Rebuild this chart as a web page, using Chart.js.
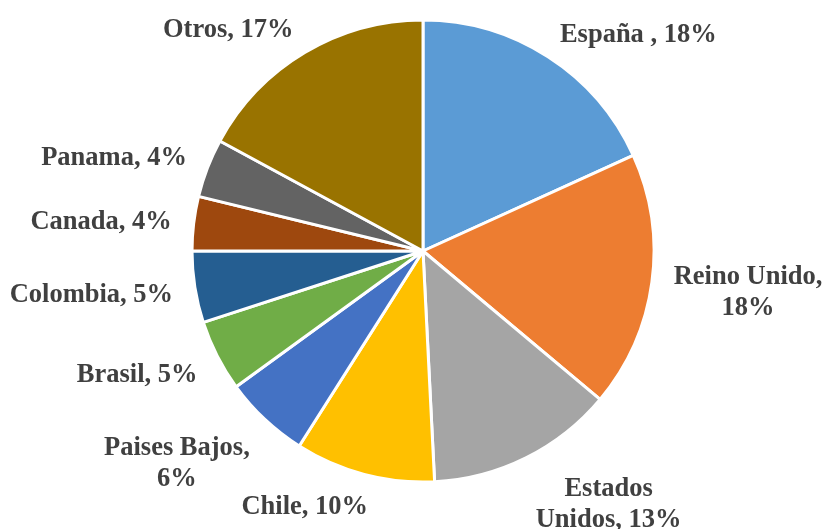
<!DOCTYPE html>
<html>
<head>
<meta charset="utf-8">
<script src="https://cdn.jsdelivr.net/npm/chart.js@4/dist/chart.umd.min.js"></script>
<style>
  html, body { margin: 0; padding: 0; background: #fff; }
  #wrap { width: 825px; height: 529px; }
</style>
</head>
<body>
<div id="wrap"><canvas id="pie" width="825" height="529"></canvas></div>
<script>
// ==================== DATA ====================
var countries = ['España ', 'Reino Unido', 'Estados Unidos', 'Chile', 'Paises Bajos',
                 'Brasil', 'Colombia', 'Canada', 'Panama', 'Otros'];
var shares = [18.2, 17.9, 13.1, 9.8, 6.0, 5.0, 5.0, 3.8, 4.1, 17.1];
var colors = ['#5B9BD5', '#ED7D31', '#A5A5A5', '#FFC000', '#4472C4',
              '#70AD47', '#255E91', '#9E480E', '#636363', '#997300'];

var labelFont = 'bold 26.5px "Liberation Serif", "Times New Roman", serif';
var labelColor = '#404040';
var lineHeight = 31;
var maxLabelWidth = 170;

function clamp(v) { return Math.max(-1, Math.min(1, v)); }

// greedy word wrap, like the spreadsheet does for long labels
function wrapLabel(ctx, text) {
    var words = text.split(' ');
    var lines = [];
    var cur = '';
    words.forEach(function(w) {
        var test = cur ? cur + ' ' + w : w;
        if (cur && ctx.measureText(test).width > maxLabelWidth) {
            lines.push(cur);
            cur = w;
        } else {
            cur = test;
        }
    });
    if (cur) lines.push(cur);
    return lines;
}

// Outside-end labels: "Name, NN%"
var outsideLabels = {
    id: 'outsideLabels',
    afterDatasetsDraw: function(chart) {
        var ctx = chart.ctx;
        var meta = chart.getDatasetMeta(0);
        var total = shares.reduce(function(a, b) { return a + b; }, 0);
        ctx.save();
        ctx.font = labelFont;
        ctx.fillStyle = labelColor;
        ctx.textAlign = 'center';
        ctx.textBaseline = 'middle';
        meta.data.forEach(function(arc, i) {
            var pct = Math.round(shares[i] / total * 100);
            var lines = wrapLabel(ctx, countries[i] + ', ' + pct + '%');
            var w = Math.max.apply(null, lines.map(function(l) { return ctx.measureText(l).width; }));
            var h = lines.length * lineHeight;
            var mid = (arc.startAngle + arc.endAngle) / 2;
            var dx = Math.cos(mid), dy = Math.sin(mid);
            var r = arc.outerRadius + 10;
            // push the label box out so its inner corner sits near the arc
            var cx = arc.x + dx * r + clamp(dx / 0.3) * w / 2 + dx * 12;
            var cy = arc.y + dy * r + clamp(dy / 0.7) * h / 2 + Math.max(dy, 0) * 6 + 2;
            var y0 = cy - h / 2 + lineHeight / 2;
            lines.forEach(function(l, k) {
                ctx.fillText(l, cx, y0 + k * lineHeight);
            });
        });
        ctx.restore();
    }
};

new Chart(document.getElementById('pie'), {
    type: 'pie',
    data: {
        labels: countries,
        datasets: [{
            data: shares,
            backgroundColor: colors,
            borderColor: '#ffffff',
            borderWidth: 3
        }]
    },
    options: {
        responsive: false,
        animation: false,
        radius: 231,
        layout: { padding: { left: 21, right: 0, top: 0, bottom: 27 } },
        plugins: {
            legend: { display: false },
            tooltip: { enabled: false }
        }
    },
    plugins: [outsideLabels]
});
</script>
</body>
</html>
